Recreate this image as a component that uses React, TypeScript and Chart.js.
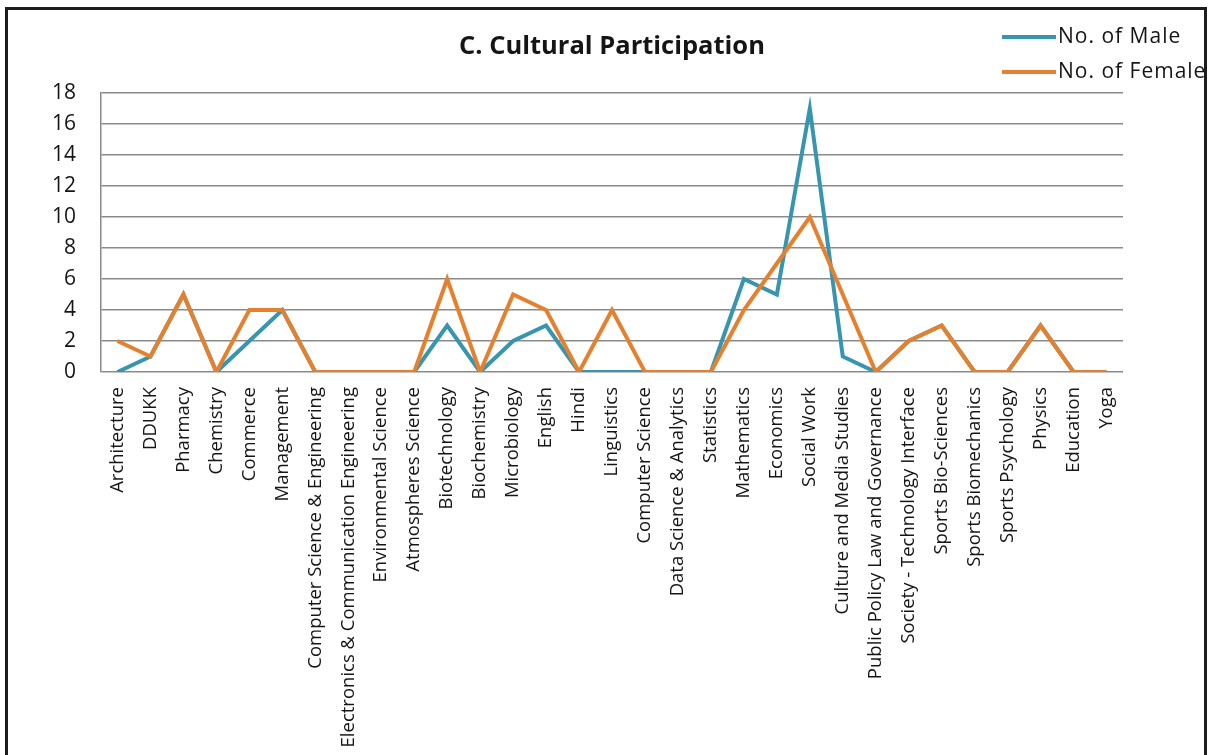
import { useEffect, useRef } from "react";
import { Chart, registerables } from "chart.js";

Chart.register(...registerables);

const categories = [
  "Architecture",
  "DDUKK",
  "Pharmacy",
  "Chemistry",
  "Commerce",
  "Management",
  "Computer Science & Engineering",
  "Electronics & Communication Engineering",
  "Environmental Science",
  "Atmospheres Science",
  "Biotechnology",
  "Biochemistry",
  "Microbiology",
  "English",
  "Hindi",
  "Linguistics",
  "Computer Science",
  "Data Science & Analytics",
  "Statistics",
  "Mathematics",
  "Economics",
  "Social Work",
  "Culture and Media Studies",
  "Public Policy Law and Governance",
  "Society - Technology Interface",
  "Sports Bio-Sciences",
  "Sports Biomechanics",
  "Sports Psychology",
  "Physics",
  "Education",
  "Yoga",
];

const maleValues = [0, 1, 5, 0, 2, 4, 0, 0, 0, 0, 3, 0, 2, 3, 0, 0, 0, 0, 0, 6, 5, 17, 1, 0, 2, 3, 0, 0, 3, 0, 0];
const femaleValues = [2, 1, 5, 0, 4, 4, 0, 0, 0, 0, 6, 0, 5, 4, 0, 4, 0, 0, 0, 4, 7, 10, 5, 0, 2, 3, 0, 0, 3, 0, 0];

const seriesNames = ["No. of Male", "No. of Female"];
const seriesColors = ["#3795B0", "#E5812E"];
const chartTitle = "C. Cultural Participation";
const yMin = 0;
const yMax = 18;
const yStep = 2;

const FONT = "'Open Sans', 'DejaVu Sans', sans-serif";

const overlayPlugin = {
  id: "overlay",
  afterDraw(chart: any) {
    const ctx = chart.ctx;
    const area = chart.chartArea;
    ctx.save();
    ctx.fillStyle = "#151515";
    ctx.font = `bold 25.5px ${FONT}`;
    ctx.textAlign = "center";
    ctx.textBaseline = "middle";
    ctx.fillText(chartTitle, (area.left + area.right) / 2, 47);

    chart.data.datasets.forEach((ds: any, i: number) => {
      const y = 37 + i * 35;
      ctx.strokeStyle = ds.borderColor;
      ctx.lineWidth = 4;
      ctx.lineCap = "butt";
      ctx.beginPath();
      ctx.moveTo(1002, y);
      ctx.lineTo(1056, y);
      ctx.stroke();
      ctx.fillStyle = "#151515";
      ctx.font = `21px ${FONT}`;
      ctx.textAlign = "left";
      ctx.textBaseline = "middle";
      try {
        (ctx as any).letterSpacing = "1px";
      } catch (e) {}
      ctx.fillText(ds.label, 1058, y);
      try {
        (ctx as any).letterSpacing = "0px";
      } catch (e) {}
    });
    ctx.restore();
  },
};

export default function App() {
  const canvasRef = useRef<HTMLCanvasElement | null>(null);

  useEffect(() => {
    document.body.style.overflow = "hidden";
    const canvas = canvasRef.current;
    if (!canvas) return;
    const chart = new Chart(canvas, {
      type: "line",
      data: {
        labels: categories,
        datasets: [
          {
            label: seriesNames[0],
            data: maleValues,
            borderColor: seriesColors[0],
            backgroundColor: seriesColors[0],
            borderWidth: 4,
            pointRadius: 0,
            tension: 0,
            order: 1,
          },
          {
            label: seriesNames[1],
            data: femaleValues,
            borderColor: seriesColors[1],
            backgroundColor: seriesColors[1],
            borderWidth: 4,
            pointRadius: 0,
            tension: 0,
            order: 0,
          },
        ],
      },
      options: {
        responsive: false,
        animation: false,
        layout: { padding: { left: 0, right: 87, top: 93, bottom: 0 } },
        plugins: {
          legend: { display: false },
          title: { display: false },
          tooltip: { enabled: false },
        },
        scales: {
          x: {
            type: "category",
            offset: true,
            grid: { display: false, drawTicks: false },
            border: { display: false },
            ticks: {
              autoSkip: false,
              maxRotation: 90,
              minRotation: 90,
              padding: 15,
              color: "#151515",
              font: { family: FONT, size: 18.5 },
            },
            afterFit: (s: any) => {
              s.height = 755 - 372;
            },
          },
          y: {
            min: yMin,
            max: yMax,
            grid: { color: "#8a8a8a", lineWidth: 1.5, drawTicks: false },
            border: { display: true, color: "#8a8a8a", width: 1.5 },
            ticks: {
              stepSize: yStep,
              padding: 25,
              color: "#151515",
              font: { family: FONT, size: 21 },
            },
            afterFit: (s: any) => {
              s.width = 101;
            },
          },
        },
      },
      plugins: [overlayPlugin],
    });
    return () => chart.destroy();
  }, []);

  return (
    <div>
      <canvas
        ref={canvasRef}
        width={1210}
        height={755}
        style={{ position: "fixed", left: 0, top: 0, width: 1210, height: 755, background: "#fff" }}
      />
      <div
        style={{
          position: "fixed",
          left: 5,
          top: 7,
          width: 1202,
          height: 820,
          border: "3px solid #1c1c1c",
          boxSizing: "border-box",
          pointerEvents: "none",
        }}
      />
    </div>
  );
}
